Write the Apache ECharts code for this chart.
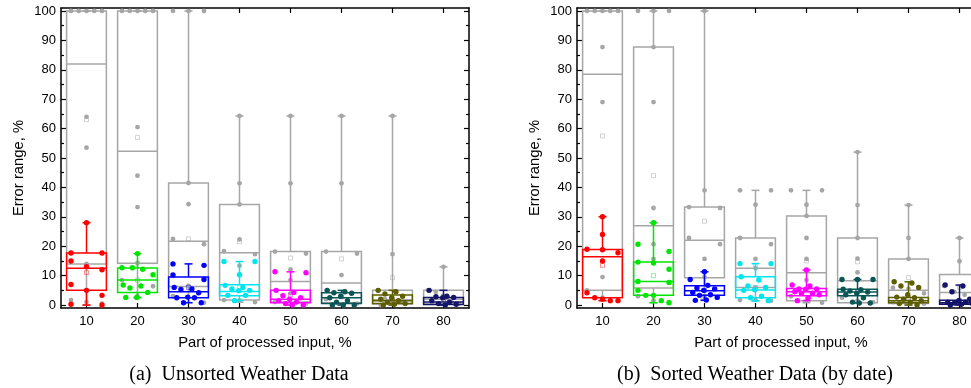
<!DOCTYPE html>
<html>
<head>
<meta charset="utf-8">
<script src="https://cdn.jsdelivr.net/npm/echarts@6/dist/echarts.min.js"></script>
<style>
  html, body { margin: 0; padding: 0; background: #fff; }
  #chart { width: 971px; height: 388px; }
</style>
</head>
<body>
<div id="chart"></div>
<script>
const categories = ['10', '20', '30', '40', '50', '60', '70', '80']
const yTicks = [0, 10, 20, 30, 40, 50, 60, 70, 80, 90, 100]
const yMinorTicks = [5, 15, 25, 35, 45, 55, 65, 75, 85, 95]
const boxColors = ['#ff0000', '#00e600', '#0000ff', '#00e5ee', '#ff00ff', '#0a5656', '#5e5e00', '#14146a']

// [min, q1, median, q3, max]
const grayStatsA = [
  [0, 14, 82, 100, 100], [2.5, 14.2, 52.3, 100, 100], [0.8, 6.3, 21.7, 41.5, 100], [1, 1.7, 17.8, 34.2, 64.3],
  [0, 1, 8, 18.2, 64.3], [0, 0.8, 7.5, 18.2, 64.3], [0, 0.4, 1.8, 5, 64.3], [0, 0.4, 2, 5, 13]
]
const colorStatsA = [
  [0, 5, 12.5, 17.7, 28], [2.6, 4.3, 8.5, 12.6, 17.5], [0.8, 2.5, 4.5, 9.5, 14], [1.5, 3.2, 4.6, 6.9, 14.8],
  [0, 0.8, 2, 5, 11.3], [0, 0.5, 2.5, 4.2, 5], [0, 0.5, 1.5, 3.4, 5], [0, 0.2, 1, 2.6, 5]
]
const grayPointsA = [
  [100, 100, 100, 100, 100, 64, 53.5, 14, 1.7, 1, 0.5],
  [100, 100, 100, 100, 100, 60.5, 44, 33.3, 14.3, 8.5, 6.4, 3],
  [100, 100, 100, 41.5, 34.3, 22.5, 20.7, 6.5, 3, 0.8],
  [64.3, 41.4, 34.2, 22.3, 18.3, 17.3, 13.4, 1.7, 1.5, 1],
  [64.3, 41.4, 18.2, 17.5, 12.1, 8.5, 4, 1, 0.5],
  [64.3, 41.4, 18.2, 17.5, 10.2, 2, 0.5],
  [64.3, 17.3, 5, 4.5, 2, 1, 0.5, 0],
  [13, 5, 4.5, 3, 1, 0.5]
]
const colorPointsA = [
  [28, 17.7, 17.7, 15, 13, 12, 7, 5, 3.3, 0.3, 0],
  [17.5, 12.7, 12.7, 12.2, 10.3, 6.8, 6.5, 5.8, 4.3, 2.6, 2.6],
  [14, 13.5, 10.2, 8.7, 6, 5.5, 5.3, 4.2, 2.7, 2.5, 2.5, 0.8, 0.8],
  [14.8, 14.8, 10.3, 6.7, 6, 5.5, 5, 4.9, 3.3, 3.3, 1.5],
  [11.3, 11, 5, 4.3, 3.2, 2.5, 2, 1.5, 1, 0.5, 0, 0],
  [5, 4.5, 4.2, 4, 3, 2.5, 1.5, 1, 0, 0, 0],
  [5, 4.5, 3.8, 3, 2.5, 2, 1.5, 1, 0.5, 0.3, 0],
  [5, 3, 2.8, 2.6, 2.5, 1.5, 1, 0.5, 0.3, 0]
]
const grayMeanA = [63, 57, 22.5, 21.5, 16, 15.7, 9.3, 3]
const colorMeanA = [11, 8.5, 6, 6, 3.4, 2.8, 2, 2]

const grayStatsB = [
  [1.5, 5, 78.5, 100, 100], [0.8, 5.8, 27, 87.7, 100], [2, 9.3, 22, 33.3, 100], [1.5, 6, 12.5, 22.8, 39],
  [0.8, 1.5, 11, 30.3, 39], [0.8, 0.8, 8.3, 22.8, 52], [0, 0.5, 5, 15.7, 34], [0, 0.5, 4.3, 10.4, 22.8]
]
const colorStatsB = [
  [1.5, 2.5, 16.4, 18.9, 30], [0.8, 3.3, 8, 14.6, 28], [1.6, 3.3, 4.9, 6.6, 11.3], [1.4, 2.5, 5.1, 9.6, 14.1],
  [1.5, 3.2, 4.5, 5.6, 11.9], [0.7, 3.2, 4.4, 5.4, 8.7], [0, 0.8, 1.5, 2.6, 7.9], [0, 0.3, 0.8, 1.6, 6.8]
]
const grayPointsB = [
  [100, 100, 100, 100, 100, 87.7, 69, 9.5, 5, 2.5, 1.5],
  [100, 100, 100, 87.7, 69, 33, 20.7, 15.7, 3, 1.5, 1],
  [100, 39, 33.3, 33, 22.8, 20.7, 15.7, 9.5, 3],
  [39, 39, 34.1, 22.8, 20.7, 15.7, 12.5, 6, 1.7, 1.7, 1.5],
  [39, 39, 34.1, 30.3, 22.8, 15.7, 8.5, 3, 1.5, 0.8],
  [52, 34, 22.8, 15.8, 11.1, 2.5, 1.5, 1],
  [34, 22.8, 15.7, 5.9, 5.5, 4, 1, 0.5],
  [22.8, 14.9, 6.5, 4.5, 3.5, 1.5]
]
const colorPointsB = [
  [30, 24, 19, 18.8, 17.8, 15, 4.2, 2.5, 2, 1.5, 1.5],
  [28, 20.7, 18.2, 14.6, 14.3, 12.2, 8, 7.7, 5, 3.3, 3.3, 1.5, 0.8],
  [11.3, 8.7, 6.7, 5.8, 5.5, 5, 4.3, 3.5, 3.3, 2.6, 1.7, 1.6],
  [14.1, 14.1, 9.6, 8.5, 6.5, 6, 5.2, 5, 3, 2.5, 1.5],
  [11.9, 6.8, 6.5, 5.5, 5.5, 5.4, 4.5, 4, 4, 3.5, 2.5, 1.5],
  [8.7, 8.7, 8.7, 5.4, 5.2, 4.8, 4.4, 4, 3.5, 2.5, 1, 0.7, 0.7],
  [7.9, 7.5, 6.5, 6, 3.5, 2.7, 2.5, 2, 1.5, 1, 0.5, 0],
  [6.8, 6.5, 4.5, 2, 1.5, 1, 1, 0.7, 0.5, 0.3, 0]
]
const grayMeanB = [57.5, 44, 28.5, 13.5, 15, 14.7, 9.3, 6]
const colorMeanB = [13.5, 10, 5, 6, 5, 4.5, 2.5, 1.5]

const GRAY = '#a6a6a6'
const BOX_FRAC = 0.78
const FONT = 'Liberation Sans'

function pickColor(colors, i) {
  return Array.isArray(colors) ? colors[i] : colors
}

// horizontal spread of overlapping points: isolated ones stay on the center line,
// points that crowd together are spread across the box
function spreadOffsets(values, gap) {
  const offsets = new Array(values.length).fill(0)
  let start = 0
  for (let k = 1; k <= values.length; k++) {
    if (k === values.length || Math.abs(values[k] - values[k - 1]) > gap) {
      const n = k - start
      for (let j = 0; j < n; j++) {
        if (n === 1) offsets[start + j] = 0
        else if (n <= 5) offsets[start + j] = -0.78 + 1.56 * j / (n - 1)
        else offsets[start + j] = -0.72 + 1.44 * ((j * 0.618034) % 1)
      }
      start = k
    }
  }
  return offsets
}

function boxSeries(g, stats, colors, z) {
  return {
    type: 'custom',
    xAxisIndex: g * 2,
    yAxisIndex: g * 4,
    z: z,
    silent: true,
    data: stats.map((s, i) => [i].concat(s)),
    encode: { x: 0, y: [1, 2, 3, 4, 5] },
    renderItem(params, api) {
      const i = api.value(0)
      const color = pickColor(colors, i)
      const w = api.size([1, 0])[0] * BOX_FRAC
      const pMin = api.coord([i, api.value(1)])
      const pQ1 = api.coord([i, api.value(2)])
      const pMed = api.coord([i, api.value(3)])
      const pQ3 = api.coord([i, api.value(4)])
      const pMax = api.coord([i, api.value(5)])
      const cx = pMed[0]
      const st = { stroke: color, lineWidth: 1.5, fill: null }
      const cap = 4
      const line = (x1, y1, x2, y2) => ({ type: 'line', shape: { x1, y1, x2, y2 }, style: st })
      return {
        type: 'group',
        children: [
          line(cx, pMax[1], cx, pQ3[1]),
          line(cx, pQ1[1], cx, pMin[1]),
          line(cx - cap, pMax[1], cx + cap, pMax[1]),
          line(cx - cap, pMin[1], cx + cap, pMin[1]),
          { type: 'rect', shape: { x: cx - w / 2, y: pQ3[1], width: w, height: pQ1[1] - pQ3[1] }, style: st },
          line(cx - w / 2, pMed[1], cx + w / 2, pMed[1])
        ]
      }
    }
  }
}

function pointSeries(g, points, colors, r, z) {
  const data = []
  points.forEach((arr, i) => {
    const offs = spreadOffsets(arr, 2.6)
    arr.forEach((v, k) => data.push([i, v, offs[k]]))
  })
  return {
    type: 'custom',
    xAxisIndex: g * 2,
    yAxisIndex: g * 4,
    z: z,
    silent: true,
    data: data,
    encode: { x: 0, y: 1 },
    renderItem(params, api) {
      const i = api.value(0)
      const w = api.size([1, 0])[0] * BOX_FRAC
      const p = api.coord([i, api.value(1)])
      return {
        type: 'circle',
        shape: { cx: p[0] + api.value(2) * w / 2, cy: p[1], r: r },
        style: { fill: pickColor(colors, i) }
      }
    }
  }
}

function meanSeries(g, means, colors, z) {
  return {
    type: 'custom',
    xAxisIndex: g * 2,
    yAxisIndex: g * 4,
    z: z,
    silent: true,
    data: means.map((v, i) => [i, v]),
    encode: { x: 0, y: 1 },
    renderItem(params, api) {
      const i = api.value(0)
      const p = api.coord([i, api.value(1)])
      return {
        type: 'rect',
        shape: { x: p[0] - 2, y: p[1] - 2, width: 4, height: 4 },
        style: { fill: null, stroke: pickColor(colors, i), lineWidth: 0.8, opacity: 0.55 }
      }
    }
  }
}

const axisLine = { show: true, onZero: false, lineStyle: { color: '#000', width: 1.5 } }
const tickStyle = { color: '#000', width: 1.2 }

function gridAxes(g) {
  const xAxes = [
    {
      type: 'category', gridIndex: g, data: categories, position: 'bottom',
      axisLine: axisLine,
      axisTick: { show: true, inside: true, alignWithLabel: true, length: 5, lineStyle: tickStyle },
      axisLabel: { fontSize: 13, fontFamily: FONT, color: '#000', margin: 7 },
      name: 'Part of processed input, %', nameLocation: 'middle', nameGap: 27,
      nameTextStyle: { fontSize: 14.8, fontFamily: FONT, color: '#000' }
    },
    {
      type: 'category', gridIndex: g, data: categories, position: 'top',
      axisLine: axisLine,
      axisTick: { show: true, inside: true, alignWithLabel: true, length: 5, lineStyle: tickStyle },
      axisLabel: { show: false }
    }
  ]
  const yBase = { type: 'value', gridIndex: g, min: -1, max: 101, splitLine: { show: false } }
  const yAxes = [
    Object.assign({}, yBase, {
      position: 'left', axisLine: axisLine,
      axisTick: { show: true, inside: true, length: 5, customValues: yTicks, lineStyle: tickStyle },
      axisLabel: { customValues: yTicks, fontSize: 13, fontFamily: FONT, color: '#000', margin: 5 },
      name: 'Error range, %', nameLocation: 'middle', nameGap: 35,
      nameTextStyle: { fontSize: 14.8, fontFamily: FONT, color: '#000', padding: [0, 20, 0, 0] }
    }),
    Object.assign({}, yBase, {
      position: 'left', axisLine: { show: false },
      axisTick: { show: true, inside: true, length: 3, customValues: yMinorTicks, lineStyle: tickStyle },
      axisLabel: { show: false }
    }),
    Object.assign({}, yBase, {
      position: 'right', axisLine: axisLine,
      axisTick: { show: true, inside: true, length: 5, customValues: yTicks, lineStyle: tickStyle },
      axisLabel: { show: false }
    }),
    Object.assign({}, yBase, {
      position: 'right', axisLine: { show: false },
      axisTick: { show: true, inside: true, length: 3, customValues: yMinorTicks, lineStyle: tickStyle },
      axisLabel: { show: false }
    })
  ]
  return { xAxes, yAxes }
}

const axesA = gridAxes(0)
const axesB = gridAxes(1)

const option = {
  animation: false,
  grid: [
    { left: 61, top: 8, width: 408, height: 300, outerBoundsMode: 'none', containLabel: false },
    { left: 577, top: 8, width: 408, height: 300, outerBoundsMode: 'none', containLabel: false }
  ],
  xAxis: axesA.xAxes.concat(axesB.xAxes),
  yAxis: axesA.yAxes.concat(axesB.yAxes),
  graphic: [
    {
      type: 'text', x: 239, y: 375,
      style: { text: '(a)  Unsorted Weather Data', font: '20px "Liberation Serif"', fill: '#000', align: 'center', verticalAlign: 'middle' }
    },
    {
      type: 'text', x: 755, y: 375,
      style: { text: '(b)  Sorted Weather Data (by date)', font: '20px "Liberation Serif"', fill: '#000', align: 'center', verticalAlign: 'middle' }
    }
  ],
  series: [
    boxSeries(0, grayStatsA, GRAY, 2),
    meanSeries(0, grayMeanA, '#999', 3),
    pointSeries(0, grayPointsA, GRAY, 2.4, 4),
    boxSeries(0, colorStatsA, boxColors, 5),
    meanSeries(0, colorMeanA, boxColors, 6),
    pointSeries(0, colorPointsA, boxColors, 2.7, 7),

    boxSeries(1, grayStatsB, GRAY, 2),
    meanSeries(1, grayMeanB, '#999', 3),
    pointSeries(1, grayPointsB, GRAY, 2.4, 4),
    boxSeries(1, colorStatsB, boxColors, 5),
    meanSeries(1, colorMeanB, boxColors, 6),
    pointSeries(1, colorPointsB, boxColors, 2.7, 7)
  ]
}

const chart = echarts.init(document.getElementById('chart'))
chart.setOption(option)
</script>
</body>
</html>
